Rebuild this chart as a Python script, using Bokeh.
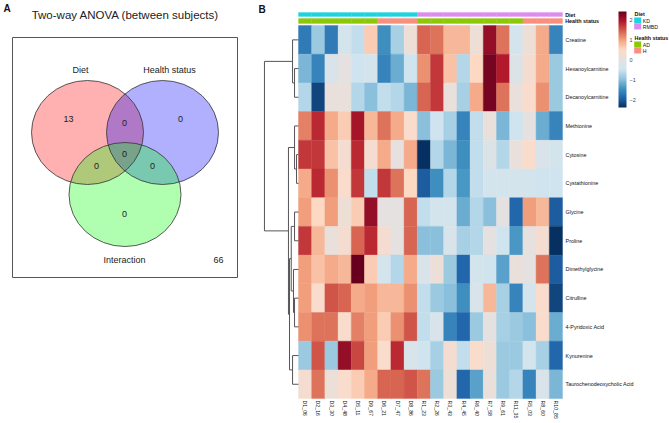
import numpy as np
from bokeh.plotting import figure
from bokeh.layouts import row
from bokeh.models import Range1d, LinearColorMapper, ColorBar, FixedTicker, ColumnDataSource
from bokeh.transform import transform
from bokeh.core.properties import value
from bokeh.embed import file_html
from bokeh.resources import INLINE

FONT = value("Liberation Sans")

# ---------------- Panel A data (Venn counts) ----------------
venn_sets = ["Diet", "Health status", "Interaction"]
venn_set_colors = ["#ff0000", "#0000ff", "#00ff00"]
venn_region_names = ["Diet", "Health", "Diet&Health", "Diet&Health&Interaction",
                     "Diet&Interaction", "Health&Interaction", "Interaction"]
venn_region_counts = [13, 0, 0, 0, 0, 0, 0]
venn_outside = 66

# ---------------- Panel B data (heatmap) ----------------
metabolites = ["Creatine", "Hexanoylcarnitine", "Decanoylcarnitine", "Methionine",
               "Cytosine", "Cystathionine", "Glycine", "Proline", "Dimethylglycine",
               "Citrulline", "4-Pyridoxic Acid", "Kynurenine", "Taurochenodeoxycholic Acid"]
samples = ["D1_06", "D2_16", "D3_30", "D4_48", "D5_11", "D9_67", "D6_21", "D7_47", "D8_86",
           "R1_23", "R2_26", "R3_43", "R4_45", "R6_40", "R7_58", "R9_61", "R11_35",
           "R5_03", "R8_60", "R10_85"]
diet = ["KD"] * 9 + ["RMBD"] * 11
health = ["AD"] * 6 + ["H"] * 3 + ["AD"] * 8 + ["H"] * 3
diet_levels = ["KD", "RMBD"]
diet_colors = ["#1DD3DF", "#DC8CEF"]
health_levels = ["AD", "H"]
health_colors = ["#8DC806", "#F98F7D"]

z_creatine = [-1.7, -0.9, -1.7, -0.4, -0.6, 0.6, -1.5, -0.8, 0.2, 1.4, 1.3, 0.8, 0.8, 0.2, 2.1, 1.3, -0.4, 0.2, 0.9, -1.6]
z_hexanoyl = [-1.1, -1.6, -0.3, 0.0, -0.5, -0.4, -1.6, -1.2, -0.5, 1.1, 1.7, 0.7, -0.7, 0.5, 2.3, 1.9, -0.2, 0.3, 0.9, -0.9]
z_decanoyl = [-0.7, -2.2, 0.1, 0.1, -0.7, -1.0, -0.6, -0.7, -1.1, 1.4, 1.7, 0.1, -0.8, 0.9, 2.3, 1.3, 0.1, 0.4, 1.1, -0.9]
z_methionine = [1.2, 1.8, 0.9, 0.6, 2.0, 0.8, 1.3, 0.9, 0.4, -1.0, -0.5, -0.8, -1.6, -0.6, 0.1, -1.1, -0.5, 0.0, -1.2, -1.6]
z_cytosine = [1.7, 1.7, 0.7, 0.3, 1.8, 0.3, 0.9, 0.05, 0.9, -2.7, -0.7, -1.1, -1.5, -0.6, -0.2, -0.7, 0.1, 0.4, -0.3, -0.4]
z_cystathionine = [0.9, 1.8, 1.1, 0.4, 1.7, -0.6, 1.7, 1.3, 0.5, -2.0, -1.5, -0.7, -1.4, -0.6, -0.4, -0.4, -0.4, -0.4, -0.5, -0.5]
z_glycine = [1.0, 0.5, 1.0, 0.2, 0.6, 2.1, 0.0, 0.0, 1.4, -0.6, -0.4, -0.4, -1.2, -0.7, -1.0, 0.0, -1.9, 1.0, 0.8, -2.0]
z_proline = [1.7, 0.8, 0.1, 0.3, 1.4, 1.8, 0.3, 0.0, 1.4, -1.0, -1.0, -0.3, -0.8, -0.7, 0.0, -0.5, -1.4, 0.05, 0.3, -2.4]
z_dimethylglycine = [1.0, 0.7, 0.9, 0.8, 2.6, 0.6, -0.4, -0.7, 0.9, -0.3, 0.15, -0.9, -1.9, -0.4, -0.5, -1.3, 0.1, 0.0, 1.3, -2.0]
z_citrulline = [1.0, 0.4, 1.5, 1.4, 0.9, 1.0, 0.8, 0.8, 1.1, -0.6, -0.9, -1.0, -1.5, -0.3, 0.8, -0.8, -1.6, -0.4, 0.4, -2.2]
z_pyridoxic = [1.1, 1.3, 1.3, 0.4, 1.2, 1.0, 0.6, 1.1, 1.5, -0.6, -0.3, -1.6, -1.9, -0.9, 0.0, -0.8, -0.9, -1.0, 0.4, -1.2]
z_kynurenine = [-0.9, 1.5, -0.9, 2.1, 1.6, 1.0, 0.4, 1.8, -0.3, -0.5, -0.8, 0.3, -0.6, 0.4, 0.2, -0.9, -0.9, -0.4, -0.8, -1.9]
z_tauro = [0.3, 1.3, 0.15, 0.4, 0.6, 0.9, 1.4, 1.4, 1.5, 1.3, -0.9, 0.2, -1.9, -1.3, 0.1, -0.9, -0.7, -1.6, -0.3, -1.1]

z_rows = [z_creatine, z_hexanoyl, z_decanoyl, z_methionine, z_cytosine, z_cystathionine,
          z_glycine, z_proline, z_dimethylglycine, z_citrulline, z_pyridoxic, z_kynurenine, z_tauro]

# row dendrogram merges: (child a, child b, height); leaves are 0..12, merges are numbered 13..
row_merges = [(1, 2, 0.30), (0, 13, 0.45), (4, 5, 0.15), (3, 15, 0.30), (6, 7, 0.30),
              (9, 10, 0.30), (8, 18, 0.38), (17, 19, 0.55), (11, 12, 0.45), (20, 21, 0.68),
              (16, 22, 0.76), (14, 23, 2.58)]

colorbar_ticks = [-2, -1, 0, 1, 2]

H = 419

# ---------------- Panel A ----------------
pA = figure(width=258, height=H, x_range=Range1d(0, 258), y_range=Range1d(H, 0),
            output_backend="svg", toolbar_location=None, min_border=0,
            x_axis_location=None, y_axis_location=None)
pA.grid.visible = False
pA.outline_line_color = None

pA.quad(left=[12], right=[237], top=[37], bottom=[277], fill_color=None,
        line_color="#555555", line_width=1)

cx = [87, 162, 124.5]
cy = [132, 132, 194]
pA.ellipse(x=cx, y=cy, width=112, height=104, fill_color=venn_set_colors,
           fill_alpha=0.31, line_color=None)
pA.ellipse(x=cx, y=cy, width=112, height=104, fill_color=None,
           line_color="#333333", line_width=0.8)

pA.text(x=[125], y=[14], text=["Two-way ANOVA (between subjects)"], text_align="center",
        text_baseline="middle", text_font=FONT, text_font_size="11.5px", text_color="#222222")
pA.text(x=[3], y=[2], text=["A"], text_align="left", text_baseline="top",
        text_font=FONT, text_font_size="10px", text_font_style="bold", text_color="#111111")

pA.text(x=[80, 169, 124], y=[69, 69, 259], text=venn_sets, text_align="center",
        text_baseline="middle", text_font=FONT, text_font_size="9px", text_color="#222222")
rx = [68, 180, 124, 124, 96, 152, 124]
ry = [118, 118, 122, 153, 165, 165, 213]
pA.text(x=rx, y=ry, text=[str(v) for v in venn_region_counts], text_align="center",
        text_baseline="middle", text_font=FONT, text_font_size="9px", text_color="#222222")
pA.text(x=[218], y=[259], text=[str(venn_outside)], text_align="center",
        text_baseline="middle", text_font=FONT, text_font_size="9px", text_color="#222222")

# ---------------- Panel B ----------------
anchors = ["#053061", "#2166ac", "#4393c3", "#92c5de", "#d1e5f0", "#e4e1e0",
           "#fddbc7", "#f4a582", "#d6604d", "#b2182b", "#67001f"]
rgb = np.array([[int(c[i:i + 2], 16) for i in (1, 3, 5)] for c in anchors], dtype=float)
t = np.linspace(0, 1, 256)
pos = np.linspace(0, 1, len(anchors))
pal = ["#%02x%02x%02x" % tuple(int(round(np.interp(tt, pos, rgb[:, k]))) for k in range(3)) for tt in t]
mapper = LinearColorMapper(palette=pal, low=-2.4, high=2.4)

CW, RH, X0, Y0 = 13.2, 28.7, 298.0, 25.0   # cell width/height in px, heatmap origin in px
WB = 669 - 258
pB = figure(width=WB, height=H, x_range=Range1d((258 - X0) / CW, (669 - X0) / CW),
            y_range=Range1d((H - Y0) / RH, (0 - Y0) / RH), output_backend="svg",
            toolbar_location=None, min_border=0, x_axis_location=None, y_axis_location=None)
pB.grid.visible = False
pB.outline_line_color = None

xs, ys, vs = [], [], []
for i, r in enumerate(z_rows):
    for j, v in enumerate(r):
        xs.append(j + 0.5)
        ys.append(i + 0.5)
        vs.append(v)
src = ColumnDataSource(dict(x=xs, y=ys, v=vs))
pB.rect(x="x", y="y", width=1, height=1, source=src, fill_color=transform("v", mapper),
        line_color=transform("v", mapper), line_width=0.4)

# annotation bars
ncol = len(samples)
dcol = [diet_colors[diet_levels.index(d)] for d in diet]
hcol = [health_colors[health_levels.index(h)] for h in health]
pB.quad(left=list(range(ncol)), right=list(range(1, ncol + 1)), top=[-0.453] * ncol,
        bottom=[-0.314] * ncol, fill_color=dcol, line_color=dcol, line_width=0.3)
pB.quad(left=list(range(ncol)), right=list(range(1, ncol + 1)), top=[-0.244] * ncol,
        bottom=[-0.07] * ncol, fill_color=hcol, line_color=hcol, line_width=0.3)
pB.text(x=[20.2, 20.2], y=[-0.383, -0.157], text=["Diet", "Health status"],
        text_align="left", text_baseline="middle", text_font=FONT, text_font_size="5.4px",
        text_font_style="bold", text_color="#111111")

# row labels
pB.text(x=[20.23] * len(metabolites), y=[i + 0.5 for i in range(len(metabolites))],
        text=metabolites, text_align="left", text_baseline="middle", text_font=FONT,
        text_font_size="5.4px", text_color="#111111")
# column labels
pB.text(x=[j + 0.5 for j in range(ncol)], y=[13.07] * ncol, text=samples, angle=-np.pi / 2,
        text_align="left", text_baseline="middle", text_font=FONT, text_font_size="5.2px",
        text_color="#111111")

# dendrogram
nleaf = len(metabolites)
node_y = {i: i + 0.5 for i in range(nleaf)}
node_h = {i: 0.0 for i in range(nleaf)}
x0s, y0s, x1s, y1s = [], [], [], []
for k, (a, b, h) in enumerate(row_merges):
    nid = nleaf + k
    for c in (a, b):
        x0s.append(-node_h[c]); y0s.append(node_y[c]); x1s.append(-h); y1s.append(node_y[c])
    x0s.append(-h); y0s.append(node_y[a]); x1s.append(-h); y1s.append(node_y[b])
    node_y[nid] = (node_y[a] + node_y[b]) / 2
    node_h[nid] = h
pB.segment(x0=x0s, y0=y0s, x1=x1s, y1=y1s, line_color="#555555", line_width=1)

pB.text(x=[(258 - X0) / CW], y=[(3 - Y0) / RH], text=["B"], text_align="left",
        text_baseline="top", text_font=FONT, text_font_size="10px", text_font_style="bold",
        text_color="#111111")

# color bar (screen offsets from the frame's bottom-left)
cb = ColorBar(color_mapper=mapper, location=(618 - 258, H - 107), width=8, height=96, padding=0,
              ticker=FixedTicker(ticks=colorbar_ticks), major_label_text_font_size="5.5px",
              major_label_text_font="Liberation Sans",
              major_tick_line_color=None, bar_line_color=None, label_standoff=3,
              background_fill_alpha=0, border_line_color=None, orientation="vertical")
pB.add_layout(cb)

# annotation legend
lx0, lx1, ltx = (633.7 - X0) / CW, (640.7 - X0) / CW, (642.3 - X0) / CW
pB.text(x=[(634 - X0) / CW] * 2, y=[(13 - Y0) / RH, (37.3 - Y0) / RH],
        text=["Diet", "Health status"],
        text_align="left", text_baseline="middle", text_font=FONT, text_font_size="5.4px",
        text_font_style="bold", text_color="#111111")
d_top = [(17 - Y0) / RH, (23 - Y0) / RH]
d_bot = [(23 - Y0) / RH, (29 - Y0) / RH]
pB.quad(left=[lx0] * 2, right=[lx1] * 2, top=d_top, bottom=d_bot, fill_color=diet_colors,
        line_color=None)
pB.text(x=[ltx] * 2, y=[(a + b) / 2 for a, b in zip(d_top, d_bot)], text=diet_levels,
        text_align="left", text_baseline="middle", text_font=FONT, text_font_size="5.2px",
        text_color="#111111")
h_top = [(41 - Y0) / RH, (47 - Y0) / RH]
h_bot = [(47 - Y0) / RH, (53 - Y0) / RH]
pB.quad(left=[lx0] * 2, right=[lx1] * 2, top=h_top, bottom=h_bot, fill_color=health_colors,
        line_color=None)
pB.text(x=[ltx] * 2, y=[(a + b) / 2 for a, b in zip(h_top, h_bot)], text=health_levels,
        text_align="left", text_baseline="middle", text_font=FONT, text_font_size="5.2px",
        text_color="#111111")

layout = row(pA, pB)
open("out.html", "w").write(file_html(layout, INLINE))
